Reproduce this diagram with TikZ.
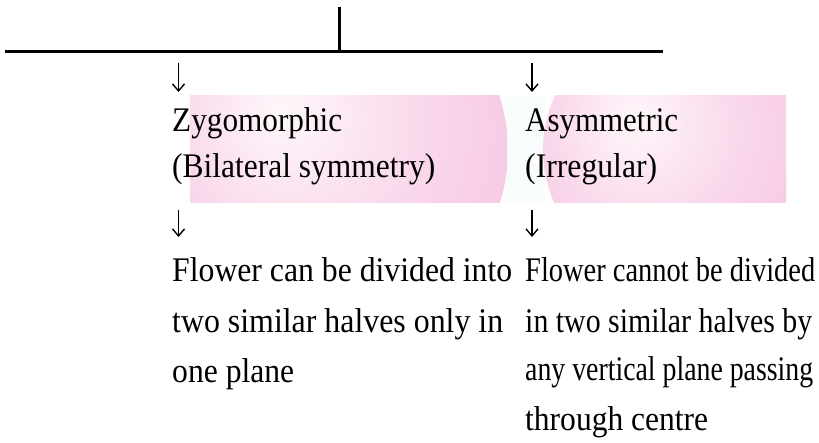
\documentclass[tikz,border=0pt]{standalone}
\usepackage{fontspec}
\setmainfont{Liberation Serif}
\usetikzlibrary{arrows.meta}
\definecolor{pinkedge}{RGB}{244,188,220}
\definecolor{pinkmid}{RGB}{249,216,235}
\definecolor{pinkcentre}{RGB}{254,247,251}
\definecolor{gapcol}{RGB}{248,252,253}
\pgfdeclareradialshading{sphere}{\pgfpoint{-8bp}{6bp}}{color(0bp)=(pinkcentre); color(18bp)=(pinkmid); color(42bp)=(pinkedge); color(50bp)=(pinkedge)}
\newcommand{\fitw}[2]{\resizebox{#1}{\height}{#2}}
\begin{document}
\begin{tikzpicture}[x=1pt,y=-1pt,
  lbl/.style={font=\fontsize{34.5}{40}\selectfont, anchor=base west, inner sep=0pt},
  trunk/.style={line width=2.7pt},
  arr/.style={line width=1.4pt, -{Straight Barb[length=7pt,width=12pt]}}]
\useasboundingbox (0,0) rectangle (819,443);
\fill[white] (0,0) rectangle (819,443);
% pink backdrops
\fill[gapcol] (505,96) rectangle (545,203);
\begin{scope}
  \clip (190,96) rectangle (507,203);
  \shade[shading=sphere] (335,150) circle (173pt);
\end{scope}
\begin{scope}
  \clip (505,96) rectangle (786,203);
  \shade[shading=sphere] (673,150) circle (130pt);
\end{scope}
% trunk lines
\coordinate (top) at (339.5,7);
\coordinate (jn) at (339.5,51.3);
\coordinate (hl) at (5,51.3);
\coordinate (hr) at (663,51.3);
\draw[trunk] (hl) -- (hr);
\draw[trunk] (top) -- (jn);
% arrows
\coordinate (za1s) at (178.5,63);  \coordinate (za1e) at (178.5,92);
\coordinate (aa1s) at (532,63);    \coordinate (aa1e) at (532,92);
\coordinate (za2s) at (178.5,210); \coordinate (za2e) at (178.5,237);
\coordinate (aa2s) at (532,210);   \coordinate (aa2e) at (532,237);
\draw[arr] (za1s) -- (za1e);
\draw[arr] (aa1s) -- (aa1e);
\draw[arr] (za2s) -- (za2e);
\draw[arr] (aa2s) -- (aa2e);
% texts
\node[lbl] (z1) at (172,132) {\fitw{170pt}{Zygomorphic}};
\node[lbl] (z2) at (172,178) {\fitw{263pt}{(Bilateral symmetry)}};
\node[lbl] (a1) at (525,132) {\fitw{153pt}{Asymmetric}};
\node[lbl] (a2) at (525,178) {\fitw{132pt}{(Irregular)}};
\node[lbl] (zd1) at (172,282) {\fitw{340pt}{Flower can be divided into}};
\node[lbl] (zd2) at (172,333) {\fitw{331pt}{two similar halves only in}};
\node[lbl] (zd3) at (172,383) {\fitw{122pt}{one plane}};
\node[lbl] (ad1) at (525,282) {\fitw{290pt}{Flower cannot be divided}};
\node[lbl] (ad2) at (525,333) {\fitw{287pt}{in two similar halves by}};
\node[lbl] (ad3) at (525,381) {\fitw{288pt}{any vertical plane passing}};
\node[lbl] (ad4) at (525,430) {\fitw{183pt}{through centre}};
\end{tikzpicture}
\end{document}
